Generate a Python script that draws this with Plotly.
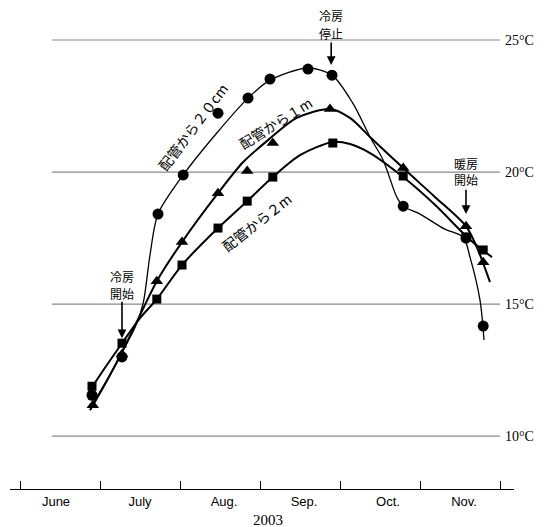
import plotly.graph_objects as go

# ---- data (x in months from 1 June: 0=Jun start ... 6=Nov end; y in °C) ----
months = ["June", "July", "Aug.", "Sep.", "Oct.", "Nov."]
month_centers = [0.45, 1.5, 2.55, 3.55, 4.6, 5.55]
month_bounds = [0, 1, 2, 3, 4, 5, 6]
ref_temps = [10, 15, 20, 25]
ref_labels = ["10°C", "15°C", "20°C", "25°C"]

# measured points
m20_x = [0.90, 1.275, 1.725, 2.04, 2.475, 2.85, 3.125, 3.60, 3.90, 4.79, 5.575, 5.79]
m20_y = [11.55, 13.0, 18.41, 19.89, 22.23, 22.80, 23.52, 23.90, 23.67, 18.71, 17.50, 14.17]

m1_x = [0.91, 1.275, 1.71, 2.025, 2.475, 2.84, 3.16, 3.875, 4.79, 5.575, 5.79]
m1_y = [11.17, 13.1, 15.87, 17.35, 19.20, 20.04, 21.10, 22.39, 20.15, 17.95, 16.59]

m2_x = [0.90, 1.275, 1.71, 2.025, 2.475, 2.84, 3.16, 3.91, 4.79, 5.575, 5.79]
m2_y = [11.89, 13.52, 15.19, 16.48, 17.88, 18.90, 19.81, 21.10, 19.85, 17.54, 17.05]

# hand-drawn trend curves
c20_x = [0.875, 1.10, 1.29, 1.44, 1.54, 1.625, 1.725, 2.04, 2.46, 2.85, 3.125, 3.60, 3.90,
         4.16, 4.375, 4.54, 4.71, 4.79, 5.0, 5.31, 5.54, 5.625, 5.75, 5.80]
c20_y = [11.06, 12.20, 13.26, 14.13, 15.04, 16.86, 18.41, 19.89, 21.48, 22.80, 23.48, 23.94, 23.67,
         22.61, 21.33, 20.45, 19.05, 18.71, 18.41, 17.84, 17.54, 16.78, 15.15, 13.64]

c1_x = [0.875, 1.09, 1.275, 1.5, 1.71, 2.025, 2.475, 2.79, 3.1, 3.46, 3.875, 4.125, 4.375,
        4.79, 5.19, 5.575, 5.725, 5.875]
c1_y = [10.98, 12.12, 13.18, 14.58, 15.87, 17.35, 19.20, 20.38, 21.21, 22.05, 22.39, 22.05, 21.33,
        20.15, 19.05, 17.95, 17.05, 15.83]

c2_x = [0.86, 1.06, 1.275, 1.5, 1.71, 2.025, 2.475, 2.84, 3.16, 3.5, 3.91, 4.125, 4.375,
        4.79, 5.19, 5.575, 5.75, 5.90]
c2_y = [11.67, 12.58, 13.52, 14.47, 15.19, 16.48, 17.88, 18.90, 19.81, 20.64, 21.14, 21.06, 20.72,
        19.81, 18.75, 17.58, 17.12, 16.78]

# event markers: arrow position (month), arrow head / tail temperature, two text lines
events_x = [1.275, 3.89, 5.575]
events_head = [13.71, 24.05, 18.41]
events_tail = [15.15, 24.96, 19.39]
events_line1 = ["冷房", "冷房", "暖房"]
events_line2 = ["開始", "停止", "開始"]
events_line1_y = [16.06, 25.91, 20.34]
events_line2_y = [15.42, 25.265, 19.73]

series_labels = ["配管から２０cm", "配管から１m", "配管から２m"]
label_x = [2.16, 3.19, 2.96]
label_y = [21.70, 21.86, 18.11]
label_angle = [-53, -32, -38]

JP = "Noto Sans CJK JP"
SERIF = "Liberation Serif, Times New Roman, serif"
SANS = "Liberation Sans, Arial, sans-serif"

fig = go.Figure()

# reference lines
for t in ref_temps:
    fig.add_shape(type="line", x0=0.4, x1=6.0, y0=t, y1=t, xref="x", yref="y",
                  line=dict(color="#8a8a8a", width=1.2), layer="below")

# curves
fig.add_trace(go.Scatter(x=c20_x, y=c20_y, mode="lines", line=dict(color="black", width=1.3, shape="spline", smoothing=0.8), hoverinfo="skip"))
fig.add_trace(go.Scatter(x=c1_x, y=c1_y, mode="lines", line=dict(color="black", width=2, shape="spline", smoothing=0.8), hoverinfo="skip"))
fig.add_trace(go.Scatter(x=c2_x, y=c2_y, mode="lines", line=dict(color="black", width=2, shape="spline", smoothing=0.8), hoverinfo="skip"))

# markers
fig.add_trace(go.Scatter(x=m2_x, y=m2_y, mode="markers", marker=dict(symbol="square", size=9, color="black")))
fig.add_trace(go.Scatter(x=m1_x, y=m1_y, mode="markers", marker=dict(symbol="triangle-up", size=11, color="black")))
fig.add_trace(go.Scatter(x=m20_x, y=m20_y, mode="markers", marker=dict(symbol="circle", size=11, color="black")))

annotations = []
for t, lab in zip(ref_temps, ref_labels):
    annotations.append(dict(x=6.04, y=t, xref="x", yref="y", text=lab, showarrow=False,
                            xanchor="left", yanchor="middle", font=dict(family=SERIF, size=14, color="black")))

for ex, eh, et, l1, l2, y1, y2 in zip(events_x, events_head, events_tail, events_line1, events_line2,
                                     events_line1_y, events_line2_y):
    annotations.append(dict(x=ex, y=eh, xref="x", yref="y", text="", showarrow=True,
                            axref="x", ayref="y", ax=ex, ay=et,
                            arrowhead=2, arrowsize=1.1, arrowwidth=1.6, arrowcolor="black", standoff=0))
    annotations.append(dict(x=ex, y=y1, xref="x", yref="y", text=l1, showarrow=False, borderpad=0,
                            font=dict(family=JP, size=12, color="black")))
    annotations.append(dict(x=ex, y=y2, xref="x", yref="y", text=l2, showarrow=False, borderpad=0,
                            font=dict(family=JP, size=12, color="black")))

for lx, ly, lt, la in zip(label_x, label_y, series_labels, label_angle):
    annotations.append(dict(x=lx, y=ly, xref="x", yref="y", text=lt, showarrow=False,
                            textangle=la, font=dict(family=JP, size=14, color="black")))

annotations.append(dict(x=3.1, y=0, xref="x", yref="paper", yshift=-21, text="2003", showarrow=False,
                        yanchor="top", font=dict(family=SERIF, size=15, color="black")))

fig.update_layout(
    width=536, height=519,
    margin=dict(l=2, r=30, t=0, b=38),
    paper_bgcolor="white", plot_bgcolor="white",
    showlegend=False,
    annotations=annotations,
    xaxis=dict(range=[-0.125, 6.175], showgrid=False, zeroline=False,
               showline=True, linecolor="black", linewidth=1.2,
               tickmode="array", tickvals=month_centers, ticktext=months, ticks="",
               tickfont=dict(family=SANS, size=13, color="black"),
               minor=dict(tickmode="array", tickvals=month_bounds, ticks="inside", ticklen=8,
                          tickwidth=1.2, tickcolor="black", showgrid=False)),
    yaxis=dict(range=[8, 26.212], visible=False),
)

fig.write_html("out.html")
